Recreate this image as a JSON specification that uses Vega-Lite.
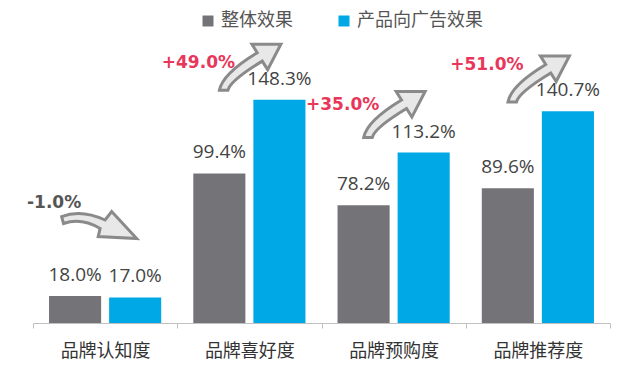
{
  "$schema": "https://vega.github.io/schema/vega-lite/v6.json",
  "width": 577,
  "height": 286,
  "autosize": {"type": "none"},
  "padding": {"left": 33, "top": 37, "right": 30, "bottom": 54},
  "background": "white",
  "config": {
    "view": {"stroke": null},
    "font": "Noto Sans CJK SC",
    "legend": {"padding": 0}
  },
  "datasets": {
    "bars": [
      {"cat": "品牌认知度", "series": "整体效果", "v": 18.0},
      {"cat": "品牌认知度", "series": "产品向广告效果", "v": 17.0},
      {"cat": "品牌喜好度", "series": "整体效果", "v": 99.4},
      {"cat": "品牌喜好度", "series": "产品向广告效果", "v": 148.3},
      {"cat": "品牌预购度", "series": "整体效果", "v": 78.2},
      {"cat": "品牌预购度", "series": "产品向广告效果", "v": 113.2},
      {"cat": "品牌推荐度", "series": "整体效果", "v": 89.6},
      {"cat": "品牌推荐度", "series": "产品向广告效果", "v": 140.7}
    ],
    "notes": [
      {"cat": "品牌认知度", "label": "-1.0%", "kind": "down", "arrowY": 65.1, "textY": 79.7},
      {"cat": "品牌喜好度", "label": "+49.0%", "kind": "up", "arrowY": 170.4, "textY": 172.8},
      {"cat": "品牌预购度", "label": "+35.0%", "kind": "up", "arrowY": 138.9, "textY": 144.9},
      {"cat": "品牌推荐度", "label": "+51.0%", "kind": "up", "arrowY": 162.5, "textY": 171.4}
    ]
  },
  "encoding": {
    "x": {
      "field": "cat",
      "type": "nominal",
      "scale": {
        "domain": ["品牌认知度", "品牌喜好度", "品牌预购度", "品牌推荐度"],
        "paddingInner": 0,
        "paddingOuter": 0
      },
      "axis": {
        "title": null,
        "labelAngle": 0,
        "labelFontSize": 18,
        "labelColor": "#333333",
        "labelFont": "Noto Sans CJK SC",
        "labelPadding": 14,
        "tickSize": 5,
        "tickColor": "#c0c0c0",
        "domainColor": "#c0c0c0",
        "tickBand": "extent",
        "grid": false
      }
    }
  },
  "layer": [
    {
      "data": {"name": "bars"},
      "mark": {"type": "bar"},
      "encoding": {
        "xOffset": {
          "field": "series",
          "type": "nominal",
          "sort": ["整体效果", "产品向广告效果"],
          "scale": {"paddingInner": 0.133, "paddingOuter": 0.267}
        },
        "y": {"field": "v", "type": "quantitative", "scale": {"domain": [0, 190]}, "axis": null},
        "color": {
          "field": "series",
          "type": "nominal",
          "sort": ["整体效果", "产品向广告效果"],
          "scale": {"domain": ["整体效果", "产品向广告效果"], "range": ["#747478", "#00a8e6"]},
          "legend": {
            "title": null,
            "orient": "none",
            "direction": "horizontal",
            "legendX": 166,
            "legendY": -25,
            "symbolType": "square",
            "symbolSize": 121,
            "symbolStrokeWidth": 0,
            "labelFontSize": 18,
            "labelColor": "#555555",
            "labelFont": "Noto Sans CJK SC",
            "labelOffset": 4,
            "columnPadding": 42
          }
        }
      }
    },
    {
      "data": {"name": "notes"},
      "transform": [{"filter": "datum.kind == 'up'"}],
      "mark": {
        "type": "point",
        "shape": "M -0.95 0.75 Q -0.85 0.224 0.25 -0.44 L 0.08 -0.71 L 1.0 -0.71 L 0.58 0.1 L 0.41 -0.17 Q -0.6 0.44 -0.68 0.75 Z",
        "size": 3969,
        "filled": true,
        "fill": "#e8e8e8",
        "stroke": "#8a8a8a",
        "strokeWidth": 3,
        "opacity": 1
      },
      "encoding": {
        "y": {"field": "arrowY", "type": "quantitative", "scale": {"domain": [0, 190]}, "axis": null}
      }
    },
    {
      "data": {"name": "notes"},
      "transform": [{"filter": "datum.kind == 'down'"}],
      "mark": {
        "type": "point",
        "shape": "M -1.13 -0.22 Q -0.62 -0.42 0.0 -0.13 L 0.17 -0.35 L 0.82 0.35 L -0.18 0.30 L -0.13 0.09 Q -0.62 -0.2 -1.08 -0.04 Z",
        "size": 5929,
        "filled": true,
        "fill": "#e8e8e8",
        "stroke": "#8a8a8a",
        "strokeWidth": 3,
        "opacity": 1
      },
      "encoding": {
        "y": {"field": "arrowY", "type": "quantitative", "scale": {"domain": [0, 190]}, "axis": null}
      }
    },
    {
      "data": {"name": "bars"},
      "transform": [{"calculate": "format(datum.v, '.1f') + '%'", "as": "lab"}],
      "mark": {"type": "text", "dy": -15, "baseline": "alphabetic", "fontSize": 19, "font": "Open Sans", "color": "#444444"},
      "encoding": {
        "xOffset": {
          "field": "series",
          "type": "nominal",
          "sort": ["整体效果", "产品向广告效果"],
          "scale": {"paddingInner": 0.133, "paddingOuter": 0.267}
        },
        "y": {"field": "v", "type": "quantitative", "scale": {"domain": [0, 190]}, "axis": null},
        "text": {"field": "lab"}
      }
    },
    {
      "data": {"name": "notes"},
      "mark": {"type": "text", "dx": -51, "baseline": "middle", "fontSize": 17, "font": "DejaVu Sans", "fontWeight": "bold"},
      "encoding": {
        "y": {"field": "textY", "type": "quantitative", "scale": {"domain": [0, 190]}, "axis": null},
        "text": {"field": "label"},
        "color": {"condition": {"test": "datum.kind == 'down'", "value": "#555555"}, "value": "#e8375a"}
      }
    }
  ]
}
